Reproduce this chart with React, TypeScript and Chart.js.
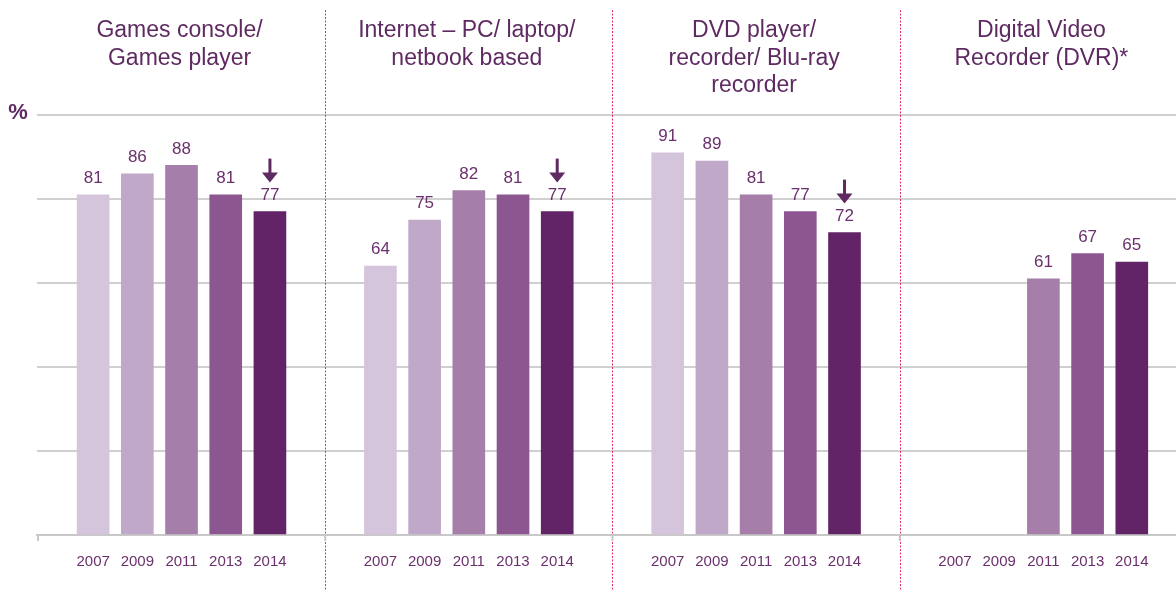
import React, { useEffect, useRef } from "react";
import { Chart, registerables } from "chart.js";

Chart.register(...registerables);

// ---- Data ----
const groupTitles: string[][] = [
  ["Games console/", "Games player"],
  ["Internet – PC/ laptop/", "netbook based"],
  ["DVD player/", "recorder/ Blu-ray", "recorder"],
  ["Digital Video", "Recorder (DVR)*"],
];
const years = ["2007", "2009", "2011", "2013", "2014"];
const values2007: (number | null)[] = [81, 64, 91, null];
const values2009: (number | null)[] = [86, 75, 89, null];
const values2011: (number | null)[] = [88, 82, 81, 61];
const values2013: (number | null)[] = [81, 81, 77, 67];
const values2014: (number | null)[] = [77, 77, 72, 65];
const downArrow2014 = [true, true, true, false];
const yTickValues = [0, 20, 40, 60, 80, 100];

// ---- Styles ----
const yearColors = ["#d4c4dc", "#c0a8c9", "#a57ea9", "#8c5790", "#622466"];
const TEXT_PURPLE = "#6a2f6c";
const TITLE_PURPLE = "#5e2a61";
const FONT = "'Liberation Sans', Arial, sans-serif";
const GROUP_SPAN = 6.5;

const seriesValues = [values2007, values2009, values2011, values2013, values2014];

export default function App() {
  const canvasRef = useRef<HTMLCanvasElement | null>(null);

  useEffect(() => {
    document.body.style.margin = "0";
    const canvas = canvasRef.current;
    if (!canvas) return;

    const datasets = seriesValues.map((vals, i) => ({
      label: years[i],
      data: vals.map((v, g) => ({ x: g * GROUP_SPAN + i, y: v })),
      backgroundColor: yearColors[i],
      barThickness: 32,
      grouped: false,
    }));

    const tickPositions: number[] = [];
    groupTitles.forEach((_, g) => years.forEach((__, i) => tickPositions.push(g * GROUP_SPAN + i)));

    const overlay = {
      id: "overlay",
      afterDatasetsDraw(chart: any) {
        const ctx = chart.ctx as CanvasRenderingContext2D;
        const xs = chart.scales.x;
        const area = chart.chartArea;
        ctx.save();
        // value labels + arrows
        chart.data.datasets.forEach((ds: any, di: number) => {
          const meta = chart.getDatasetMeta(di);
          meta.data.forEach((el: any, gi: number) => {
            const v = ds.data[gi].y;
            if (v === null || v === undefined) return;
            ctx.fillStyle = TEXT_PURPLE;
            ctx.font = `17px ${FONT}`;
            ctx.textAlign = "center";
            ctx.textBaseline = "middle";
            ctx.fillText(String(v), el.x, el.y - 16.5);
            if (di === 4 && downArrow2014[gi]) {
              const tip = el.y - 29;
              const top = el.y - 53;
              ctx.fillStyle = TITLE_PURPLE;
              ctx.fillRect(el.x - 1.5, top, 3, tip - top - 8);
              ctx.beginPath();
              ctx.moveTo(el.x - 8, tip - 10);
              ctx.lineTo(el.x + 8, tip - 10);
              ctx.lineTo(el.x, tip);
              ctx.closePath();
              ctx.fill();
            }
          });
        });
        // separators
        ctx.strokeStyle = "#e0306a";
        ctx.lineWidth = 1;
        ctx.setLineDash([2, 1.5]);
        for (let g = 1; g < groupTitles.length; g++) {
          const xv = (g - 1) * GROUP_SPAN + 4 + (GROUP_SPAN - 4) / 2;
          const px = Math.round(xs.getPixelForValue(xv)) + 0.5;
          ctx.beginPath();
          ctx.moveTo(px, 10);
          ctx.lineTo(px, 590);
          ctx.stroke();
        }
        ctx.setLineDash([]);
        // small axis ticks
        ctx.strokeStyle = "#c8c8c8";
        ctx.lineWidth = 2;
        const tickXs = [area.left + 1];
        for (let g = 1; g < groupTitles.length; g++) {
          tickXs.push(xs.getPixelForValue((g - 1) * GROUP_SPAN + 5.25));
        }
        tickXs.forEach((tx) => {
          ctx.beginPath();
          ctx.moveTo(tx, area.bottom);
          ctx.lineTo(tx, area.bottom + 6);
          ctx.stroke();
        });
        // titles
        ctx.fillStyle = TITLE_PURPLE;
        ctx.font = `23px ${FONT}`;
        ctx.textAlign = "center";
        ctx.textBaseline = "alphabetic";
        groupTitles.forEach((lines, g) => {
          const cx = xs.getPixelForValue(g * GROUP_SPAN + 2) - 2;
          lines.forEach((line, li) => ctx.fillText(line, cx, 37 + li * 27.5));
        });
        // percent sign
        ctx.font = `bold 22px ${FONT}`;
        ctx.fillText("%", 18, 119);
        ctx.restore();
      },
    };

    const chart = new Chart(canvas, {
      type: "bar",
      data: { datasets: datasets as any },
      options: {
        animation: false,
        responsive: false,
        maintainAspectRatio: false,
        layout: { padding: { left: 37, top: 115, right: 0, bottom: 0 } },
        plugins: { legend: { display: false }, tooltip: { enabled: false } },
        scales: {
          x: {
            type: "linear",
            offset: false,
            min: -1.27,
            max: 24.5,
            grid: { display: false },
            border: { display: true, color: "#c8c8c8", width: 2 },
            afterBuildTicks: (scale: any) => {
              scale.ticks = tickPositions.map((v) => ({ value: v }));
            },
            afterFit: (scale: any) => {
              scale.height = 55;
            },
            ticks: {
              autoSkip: false,
              maxRotation: 0,
              padding: 10,
              color: TEXT_PURPLE,
              font: { family: FONT, size: 15 },
              callback: (_v: any, idx: number) => years[idx % years.length],
            },
          },
          y: {
            min: 0,
            max: 100,
            afterBuildTicks: (scale: any) => {
              scale.ticks = yTickValues.map((v) => ({ value: v }));
            },
            afterFit: (scale: any) => {
              scale.width = 0;
            },
            ticks: { display: false },
            grid: { color: "#d0d0d0", lineWidth: 2, drawTicks: false },
            border: { display: false },
          },
        },
      },
      plugins: [overlay],
    });

    return () => chart.destroy();
  }, []);

  return (
    <div style={{ position: "relative", width: 1176, height: 590 }}>
      <canvas ref={canvasRef} width={1176} height={590} style={{ display: "block" }} />
    </div>
  );
}
